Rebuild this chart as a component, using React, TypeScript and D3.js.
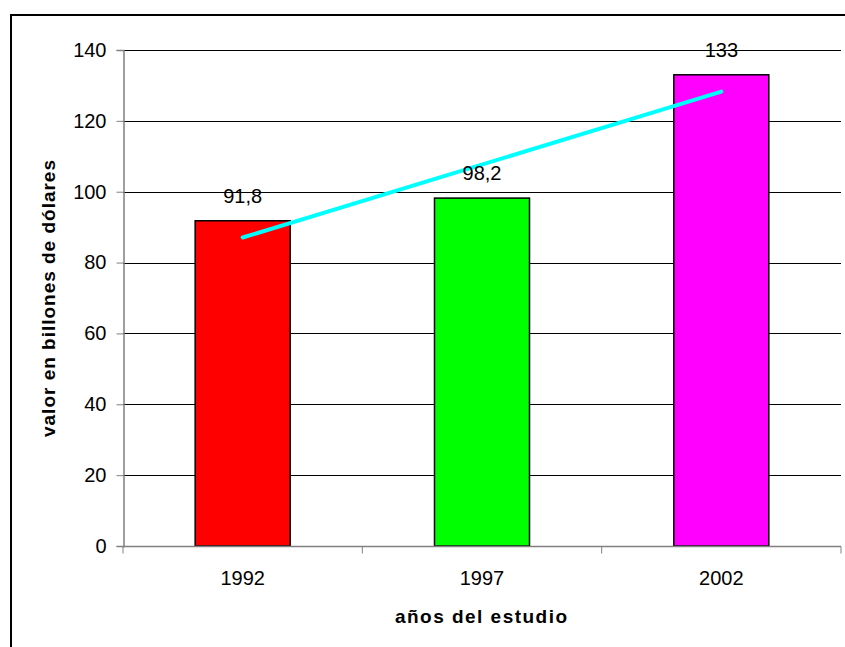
import { useEffect, useRef } from "react";
import * as d3 from "d3";

const years = ["1992", "1997", "2002"];
const values = [91.8, 98.2, 133];
const valueLabels = ["91,8", "98,2", "133"];
const barColors = ["#ff0000", "#00ff00", "#ff00ff"];
const yTicks = [0, 20, 40, 60, 80, 100, 120, 140];

const FONT = "Liberation Sans, Arial, sans-serif";

export default function App() {
  const svgRef = useRef<SVGSVGElement>(null);

  useEffect(() => {
    document.body.style.margin = "0";
    if (!svgRef.current) return;
    const W = 845;
    const H = 647;
    const margin = { top: 50, right: 4, bottom: 101, left: 123 };
    const innerW = W - margin.left - margin.right;
    const innerH = H - margin.top - margin.bottom;

    const root = d3.select(svgRef.current);
    root.selectAll("*").remove();
    root.attr("width", W).attr("height", H);

    root.append("rect").attr("width", W).attr("height", H).attr("fill", "#fff");
    // outer chart frame (cropped at right/bottom)
    root.append("rect")
      .attr("x", 11).attr("y", 15).attr("width", W + 10).attr("height", H + 10)
      .attr("fill", "none").attr("stroke", "#000").attr("stroke-width", 2);

    const svg = root.append("g").attr("transform", `translate(${margin.left},${margin.top})`);

    const x = d3.scaleBand().domain(years).range([0, innerW]).paddingInner(0).paddingOuter(0);
    const y = d3.scaleLinear().domain([0, 140]).range([innerH, 0]);
    const barW = 95;

    // gridlines
    svg.selectAll(".grid")
      .data(yTicks.filter(t => t > 0))
      .enter().append("line")
      .attr("x1", 0).attr("x2", innerW)
      .attr("y1", d => Math.round(y(d)) + 0.5).attr("y2", d => Math.round(y(d)) + 0.5)
      .attr("stroke", "#000").attr("stroke-width", 1);

    // bars
    svg.selectAll(".bar")
      .data(values)
      .enter().append("rect")
      .attr("x", (_d, i) => x(years[i])! + x.bandwidth() / 2 - barW / 2)
      .attr("y", d => y(d))
      .attr("width", barW)
      .attr("height", d => innerH - y(d))
      .attr("fill", (_d, i) => barColors[i])
      .attr("stroke", "#000").attr("stroke-width", 1.5);

    // linear trendline
    const n = values.length;
    const mx = (n - 1) / 2;
    const my = d3.mean(values)!;
    const slope = d3.sum(values, (v, i) => (i - mx) * (v - my)) / d3.sum(values, (_v, i) => (i - mx) ** 2);
    const ic = my - slope * mx;
    const cx = (i: number) => x(years[i])! + x.bandwidth() / 2;
    svg.append("line")
      .attr("x1", cx(0)).attr("y1", y(ic))
      .attr("x2", cx(n - 1)).attr("y2", y(ic + slope * (n - 1)))
      .attr("stroke", "#00ffff").attr("stroke-width", 4).attr("stroke-linecap", "round");

    // value labels
    svg.selectAll(".vlabel")
      .data(values)
      .enter().append("text")
      .attr("x", (_d, i) => cx(i))
      .attr("y", d => y(d) - 18)
      .attr("text-anchor", "middle")
      .attr("font-family", FONT)
      .attr("font-size", 20)
      .attr("fill", "#000")
      .text((_d, i) => valueLabels[i]);

    // y axis
    const yAxis = d3.axisLeft(y).tickValues(yTicks).tickSize(7).tickPadding(10).tickFormat(d => String(d));
    const gy = svg.append("g").attr("transform", "translate(0.5,0)").call(yAxis);
    gy.select(".domain").attr("stroke", "#808080").attr("stroke-width", 1.5);
    gy.selectAll(".tick line").attr("stroke", "#808080");
    gy.selectAll("text").attr("font-family", FONT).attr("font-size", 20).attr("fill", "#000");

    // x axis
    const gx = svg.append("g").attr("transform", `translate(0,${innerH + 0.5})`);
    gx.append("line").attr("x1", 0).attr("x2", innerW).attr("stroke", "#808080").attr("stroke-width", 1.5);
    const bounds = [...years.map(yr => x(yr)!), innerW];
    gx.selectAll(".xt").data(bounds).enter().append("line")
      .attr("x1", d => d).attr("x2", d => d).attr("y1", 0).attr("y2", 7)
      .attr("stroke", "#808080");
    gx.selectAll(".xl").data(years).enter().append("text")
      .attr("x", d => x(d)! + x.bandwidth() / 2)
      .attr("y", 38)
      .attr("text-anchor", "middle")
      .attr("font-family", FONT)
      .attr("font-size", 20)
      .attr("fill", "#000")
      .text(d => d);

    // axis titles
    root.append("text")
      .attr("x", 395)
      .attr("y", 623)
      .attr("textLength", 172).attr("lengthAdjust", "spacing")
      .attr("font-family", FONT)
      .attr("font-size", 19).attr("font-weight", "bold")
      .text("años del estudio");
    root.append("text")
      .attr("transform", "translate(55,437) rotate(-90)")
      .attr("textLength", 277).attr("lengthAdjust", "spacing")
      .attr("font-family", FONT)
      .attr("font-size", 19).attr("font-weight", "bold")
      .text("valor en billones de dólares");
  }, []);

  return <svg ref={svgRef} style={{ display: "block" }} />;
}
